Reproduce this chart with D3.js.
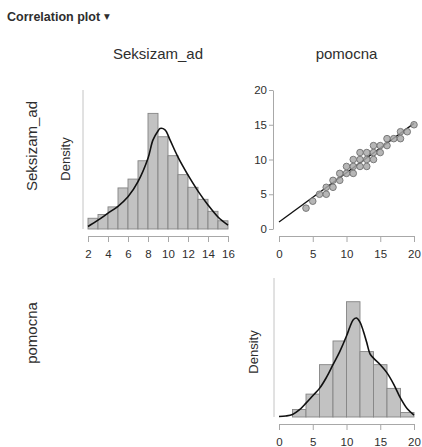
<!DOCTYPE html>
<html>
<head>
<meta charset="utf-8">
<script src="https://cdn.jsdelivr.net/npm/d3@7"></script>
<style>
  body { margin: 0; background: #fff; }
  svg { display: block; font-family: "Liberation Sans", Arial, Helvetica, sans-serif; }
</style>
</head>
<body>
<svg id="chart" width="422" height="447"></svg>
<script>
// Variables shown in the matrix
const variables = ["Seksizam_ad", "pomocna"];

// Seksizam_ad: histogram (bin width 1) with density estimate
const sexBinStarts = [2, 3, 4, 5, 6, 7, 8, 9, 10, 11, 12, 13, 14, 15];
const sexBinDensity = [0.017, 0.023, 0.035, 0.065, 0.079, 0.108, 0.183, 0.146, 0.116, 0.086, 0.066, 0.047, 0.028, 0.013];
const sexCurveX = [2, 3, 4, 5, 6, 7, 8, 8.5, 9, 9.2, 9.7, 10.2, 10.9, 11.5, 12.2, 13, 14, 15, 16];
const sexCurveY = [0.004, 0.014, 0.025, 0.036, 0.051, 0.075, 0.112, 0.141, 0.155, 0.159, 0.157, 0.141, 0.117, 0.099, 0.080, 0.060, 0.038, 0.019, 0.006];
const sexTicks = [2, 4, 6, 8, 10, 12, 14, 16];

// pomocna: histogram (bin width 2) with density estimate
const pomBinStarts = [2, 4, 6, 8, 10, 12, 14, 16, 18];
const pomBinDensity = [0.0092, 0.028, 0.064, 0.093, 0.141, 0.080, 0.064, 0.035, 0.0055];
const pomCurveX = [0, 1, 2, 3, 4, 5, 6, 7, 8, 9, 10, 10.5, 11, 11.5, 12, 12.5, 13, 13.5, 14, 15, 16, 17, 18, 19, 20];
const pomCurveY = [0.0006, 0.0012, 0.003, 0.0086, 0.017, 0.026, 0.035, 0.048, 0.064, 0.080, 0.099, 0.110, 0.119, 0.121, 0.116, 0.105, 0.091, 0.077, 0.072, 0.064, 0.054, 0.040, 0.023, 0.010, 0.0024];
const pomTicks = [0, 5, 10, 15, 20];

// Scatter: pomocna (x) against Seksizam_ad (y) with fitted line
const scatterX = [4, 5, 6, 7, 7, 8, 8, 9, 9, 10, 10, 11, 11, 11, 12, 12, 12, 13, 13, 13, 14, 14, 14, 15, 15, 16, 16, 17, 18, 18, 19, 20];
const scatterY = [3, 4, 5, 5, 6, 6, 7, 7, 8, 8, 9, 8, 9, 10, 9, 10, 11, 9, 10, 11, 10, 11, 12, 11, 12, 12, 13, 13, 13, 14, 14, 15];
const fitIntercept = 1.0;
const fitSlope = 0.71;
const scatterTicks = [0, 5, 10, 15, 20];

const svg = d3.select("#chart");

const COL = [[88, 228], [279, 414]];
const ROW = [[90, 229], [278, 417]];
const AXIS_GAP = 7;
const axisGrey = "#a8a8a8";
const textDark = "#2e2e2e";

// Title with dropdown marker
svg.append("text").attr("x", 7).attr("y", 21)
  .attr("font-size", 12.5).attr("font-weight", "bold").attr("fill", textDark)
  .text("Correlation plot");
svg.append("text").attr("x", 104).attr("y", 18.5)
  .attr("font-size", 7.5).attr("fill", textDark)
  .attr("font-family", "DejaVu Sans")
  .text("\u25BC");

// Column headers and row labels
variables.forEach((v, i) => {
  svg.append("text")
    .attr("x", (COL[i][0] + COL[i][1]) / 2).attr("y", 59)
    .attr("text-anchor", "middle").attr("font-size", 15).attr("fill", textDark)
    .text(v);
});
const rowLabelY = [146, 333];
variables.forEach((v, i) => {
  svg.append("text")
    .attr("transform", `translate(37,${rowLabelY[i]}) rotate(-90)`)
    .attr("text-anchor", "middle").attr("font-size", 15).attr("fill", textDark)
    .text(v);
});

function styleAxis(g) {
  g.select(".domain").attr("stroke", axisGrey).attr("stroke-width", 1);
  g.selectAll(".tick line").attr("stroke", axisGrey).attr("stroke-width", 1);
  g.selectAll(".tick text").attr("fill", textDark).attr("font-size", 11.5)
    .attr("font-family", "'Liberation Sans', Arial, sans-serif");
}

function bottomAxis(x, ticks, rowIdx) {
  const g = svg.append("g")
    .attr("transform", `translate(0,${ROW[rowIdx][1] + AXIS_GAP})`)
    .call(d3.axisBottom(x).tickValues(ticks).tickSize(6).tickPadding(8).tickSizeOuter(0));
  styleAxis(g);
}

function histogram(colIdx, rowIdx, xDomain, yMax, binStarts, binDensity, binWidth, curveX, curveY, ticks, densityPos) {
  const x = d3.scaleLinear().domain(xDomain).range(COL[colIdx]);
  const y = d3.scaleLinear().domain([0, yMax]).range([ROW[rowIdx][1], ROW[rowIdx][0]]);

  // Density axis line (no ticks)
  svg.append("line")
    .attr("x1", COL[colIdx][0] - 5).attr("x2", COL[colIdx][0] - 5)
    .attr("y1", y(0)).attr("y2", y(yMax))
    .attr("stroke", "#c4c4c4").attr("stroke-width", 1);
  svg.append("text")
    .attr("transform", `translate(${densityPos[0]},${densityPos[1]}) rotate(-90)`)
    .attr("text-anchor", "middle").attr("font-size", 13).attr("fill", textDark)
    .text("Density");

  svg.append("g").selectAll("rect")
    .data(binStarts.map((s, i) => ({ s, d: binDensity[i] })))
    .join("rect")
    .attr("x", d => x(d.s))
    .attr("width", d => x(d.s + binWidth) - x(d.s))
    .attr("y", d => y(d.d))
    .attr("height", d => y(0) - y(d.d))
    .attr("fill", "#c2c2c2").attr("stroke", "#858585").attr("stroke-width", 0.9);

  const line = d3.line().x(d => x(d[0])).y(d => y(d[1])).curve(d3.curveCatmullRom.alpha(0.5));
  svg.append("path")
    .datum(curveX.map((v, i) => [v, curveY[i]]))
    .attr("d", line)
    .attr("fill", "none").attr("stroke", "#111").attr("stroke-width", 1.6);

  bottomAxis(x, ticks, rowIdx);
}

// Diagonal: histograms
histogram(0, 0, [2, 16], 0.22, sexBinStarts, sexBinDensity, 1, sexCurveX, sexCurveY, sexTicks, [70, 159]);
histogram(1, 1, [0, 20], 0.17, pomBinStarts, pomBinDensity, 2, pomCurveX, pomCurveY, pomTicks, [258, 352]);

// Upper triangle: scatter with regression line
{
  const x = d3.scaleLinear().domain([0, 20]).range(COL[1]);
  const y = d3.scaleLinear().domain([0, 20]).range([ROW[0][1], ROW[0][0]]);

  const gy = svg.append("g")
    .attr("transform", `translate(${COL[1][0] - 6},0)`)
    .call(d3.axisLeft(y).tickValues(scatterTicks).tickSize(4).tickPadding(2).tickSizeOuter(0));
  styleAxis(gy);

  bottomAxis(x, scatterTicks, 0);

  svg.append("line")
    .attr("x1", x(0)).attr("y1", y(fitIntercept))
    .attr("x2", x(20)).attr("y2", y(fitIntercept + fitSlope * 20))
    .attr("stroke", "#111").attr("stroke-width", 1.3);

  svg.append("g").selectAll("circle")
    .data(scatterX.map((v, i) => [v, scatterY[i]]))
    .join("circle")
    .attr("cx", d => x(d[0])).attr("cy", d => y(d[1])).attr("r", 3.3)
    .attr("fill", "#a9a9a9").attr("fill-opacity", 0.85)
    .attr("stroke", "#707070").attr("stroke-width", 0.9);
}
</script>
</body>
</html>
